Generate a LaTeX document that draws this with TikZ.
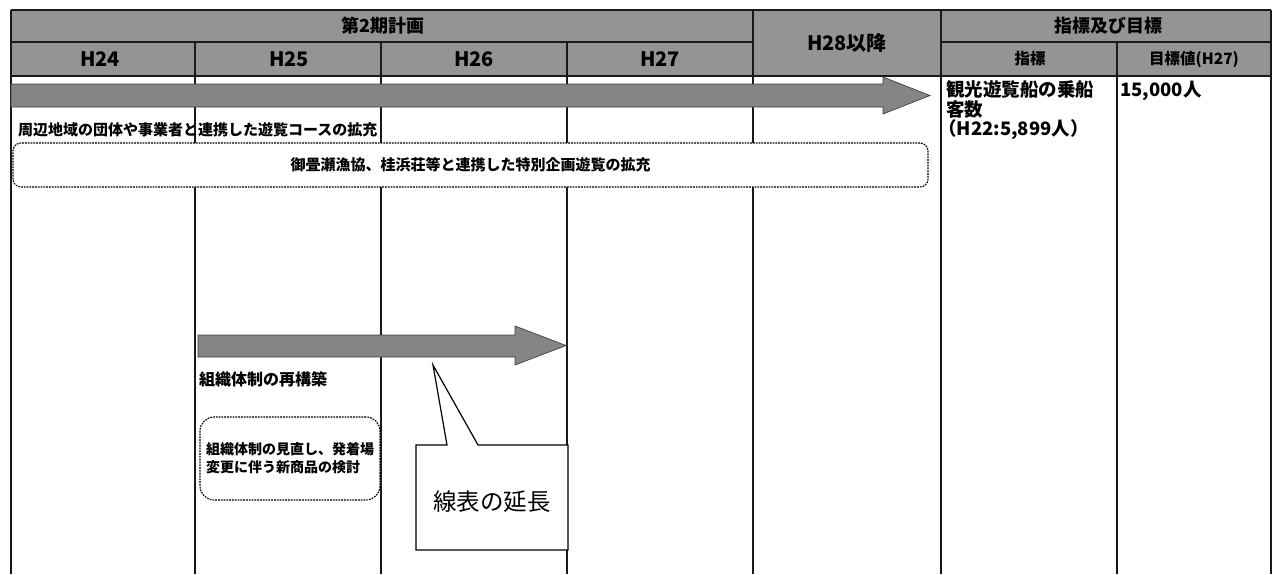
\documentclass[tikz,border=0pt]{standalone}
\usepackage{fontspec}
\setmainfont{Noto Sans CJK JP}
\begin{document}
\begin{tikzpicture}[x=1pt,y=-1pt,line join=miter]
\tikzset{
  hdr/.style={fill=black!42},
  gridline/.style={line width=1.5pt, draw=black!90},
  bar/.style={fill=black!48, draw=black!75, line width=0.7pt},
  dbox/.style={draw=black, fill=white, dash pattern=on 1.8pt off 1pt, line width=1.1pt, rounded corners=8pt, inner sep=0pt},
  hd/.style={inner sep=0pt, font=\bfseries\fontsize{18}{18}\selectfont},
  hy/.style={inner sep=0pt, font=\bfseries\fontsize{20}{20}\selectfont},
  hds/.style={inner sep=0pt, font=\bfseries\fontsize{15.5}{15.5}\selectfont},
  body/.style={inner sep=0pt, font=\bfseries\fontsize{15}{15}\selectfont},
  cell/.style={inner sep=0pt, anchor=base west, font=\bfseries\fontsize{18.5}{18.5}\selectfont},
  small/.style={inner sep=0pt, font=\bfseries\fontsize{14}{18}\selectfont},
  callout/.style={draw=black, fill=white, line width=1.2pt}
}
\useasboundingbox (0,0) rectangle (1277,574);
\fill[white] (0,0) rectangle (1277,574);
% header background
\fill[hdr] (11,10) rectangle (1271,76);
% grid
\draw[gridline] (11,10) -- (1271,10);
\draw[gridline] (11,42) -- (753,42);
\draw[gridline] (941,42) -- (1271,42);
\draw[gridline] (11,76) -- (1271,76);
\draw[gridline] (11,10) -- (11,574);
\draw[gridline] (195,42) -- (195,574);
\draw[gridline] (381,42) -- (381,574);
\draw[gridline] (567,42) -- (567,574);
\draw[gridline] (753,10) -- (753,574);
\draw[gridline] (941,10) -- (941,574);
\draw[gridline] (1117,42) -- (1117,574);
\draw[gridline] (1271,10) -- (1271,574);
% header texts
\node[hd] (plan) at (383,26) {第2期計画};
\node[hy] (h24) at (100,59) {H24};
\node[hy] (h25) at (289,59) {H25};
\node[hy] (h26) at (474,59) {H26};
\node[hy] (h27) at (660,59) {H27};
\node[hy] (h28) at (847,43) {H28以降};
\node[hd] (goal) at (1108,26) {指標及び目標};
\node[hds] (idx) at (1030,59) {指標};
\node[hds] (tgt) at (1194,59) {目標値(H27)};
% big arrow
\filldraw[bar] (11,84) -- (883,84) -- (883,77) -- (930,95.5) -- (883,114) -- (883,107) -- (11,107) -- cycle;
% indicator cells
\node[cell] (ind1) at (946,96) {観光遊覧船の乗船};
\node[cell] (ind2) at (946,116) {客数};
\node[cell] (ind3) at (938,135) {（H22:5,899人）};
\node[cell] (val) at (1120,96) {15,000人};
% row 1 texts
\node[body, anchor=west] (t1) at (18,130) {周辺地域の団体や事業者と連携した遊覧コースの拡充};
\node[dbox, small, font=\bfseries\fontsize{15}{18}\selectfont, minimum width=915pt, minimum height=44pt] (b1) at (470.5,165) {御畳瀬漁協、桂浜荘等と連携した特別企画遊覧の拡充};
% small arrow
\filldraw[bar] (198,335) -- (515,335) -- (515,326) -- (566,345.5) -- (515,365) -- (515,357) -- (198,357) -- cycle;
\node[body, anchor=west, font=\bfseries\fontsize{16}{16}\selectfont] (t2) at (199,379) {組織体制の再構築};
\node[dbox, small, align=left, rounded corners=14pt, minimum width=180pt, minimum height=83pt] (b2) at (290,458.5) {組織体制の見直し、発着場\\変更に伴う新商品の検討};
% callout
\draw[callout] (416,445) -- (447,445) -- (433,365) -- (478,445) -- (568,445) -- (568,550) -- (416,550) -- cycle;
\node[inner sep=0pt, font=\fontsize{23.5}{24}\selectfont] (co) at (492,502) {線表の延長};
\end{tikzpicture}
\end{document}
